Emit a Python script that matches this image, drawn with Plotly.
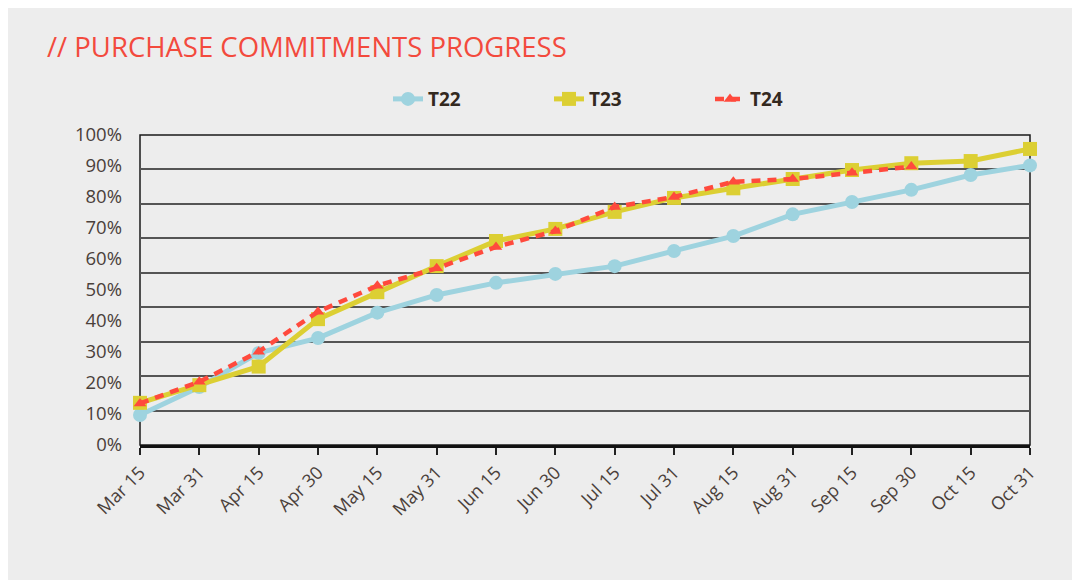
import plotly.graph_objects as go

categories = ["Mar 15", "Mar 31", "Apr 15", "Apr 30", "May 15", "May 31", "Jun 15", "Jun 30",
              "Jul 15", "Jul 31", "Aug 15", "Aug 31", "Sep 15", "Sep 30", "Oct 15", "Oct 31"]
t22 = [9.7, 18.7, 29.7, 34.5, 42.7, 48.4, 52.3, 55.2, 57.7, 62.6, 67.4, 74.4, 78.4, 82.3, 87.1, 90.2]
t23 = [13.6, 19.3, 25.3, 40.6, 49.3, 57.7, 65.8, 69.7, 75.2, 79.7, 82.8, 85.8, 88.7, 90.9, 91.6, 95.5]
t24 = [13.4, 20.4, 30.1, 43.0, 51.4, 57.0, 63.9, 69.0, 76.8, 80.0, 84.9, 85.8, 87.8, 89.8]
y_ticks = list(range(0, 101, 10))
y_labels = [f"{v}%" for v in y_ticks]

BG = "#EDEDED"
fig = go.Figure()
fig.add_trace(go.Scatter(x=categories, y=t22, name="T22", mode="lines+markers",
                         line=dict(color="#9ED3DF", width=5),
                         marker=dict(symbol="circle", size=14, color="#9ED3DF"),
                         cliponaxis=False))
fig.add_trace(go.Scatter(x=categories, y=t23, name="T23", mode="lines+markers",
                         line=dict(color="#DCCF33", width=5),
                         marker=dict(symbol="square", size=14, color="#DCCF33"),
                         cliponaxis=False))
fig.add_trace(go.Scatter(x=categories[:len(t24)], y=t24, name="T24", mode="lines+markers",
                         line=dict(color="#FF4A3D", width=4.5, dash="9px,7px"),
                         marker=dict(symbol="triangle-up", size=11, color="#FF4A3D"),
                         cliponaxis=False))
# invisible trace to enable the overlay axis used for the 9-band grid
fig.add_trace(go.Scatter(x=[categories[0]], y=[0], yaxis="y2", mode="markers",
                         marker=dict(opacity=0), showlegend=False, hoverinfo="skip"))

# plot border
fig.add_shape(type="rect", xref="paper", yref="paper", x0=0, x1=1, y0=0, y1=1,
              fillcolor="rgba(0,0,0,0)", line=dict(color="#1A1A1A", width=1.5), layer="below")

fig.update_layout(
    width=1069, height=572,
    margin=dict(l=132, r=47, t=127, b=135),
    paper_bgcolor=BG, plot_bgcolor="rgba(0,0,0,0)",
    title=dict(text="// PURCHASE COMMITMENTS PROGRESS", x=39 / 1069, xanchor="left",
               y=1 - 39 / 572, yanchor="middle",
               font=dict(family="Open Sans", size=27.5, color="#F34A3D")),
    legend=dict(orientation="h", x=0.55, xanchor="center", y=1.116, yanchor="middle",
                font=dict(family="Open Sans", size=19, color="#33291F", weight="bold"),
                bgcolor="rgba(0,0,0,0)", entrywidth=116, traceorder="normal"),
    font=dict(family="Open Sans", color="#4A403A"),
    xaxis=dict(type="category", range=[0, 15], showgrid=False, tickangle=-45,
               ticks="outside", ticklen=7, tickwidth=1.5, tickcolor="#222",
               showline=True, linecolor="#111", linewidth=3,
               tickfont=dict(size=18, color="#4A403A")),
    yaxis=dict(range=[0, 100], tickvals=y_ticks, ticktext=y_labels, showgrid=False,
               zeroline=False, showline=False, ticks="", ticklabelstandoff=17,
               tickfont=dict(size=18.5, color="#4A403A")),
    yaxis2=dict(overlaying="y", range=[0, 9], dtick=1, showgrid=True, gridcolor="#555555",
                gridwidth=1.5, showticklabels=False, zeroline=False, side="right"),
    showlegend=True,
)
fig.write_html("out.html")
